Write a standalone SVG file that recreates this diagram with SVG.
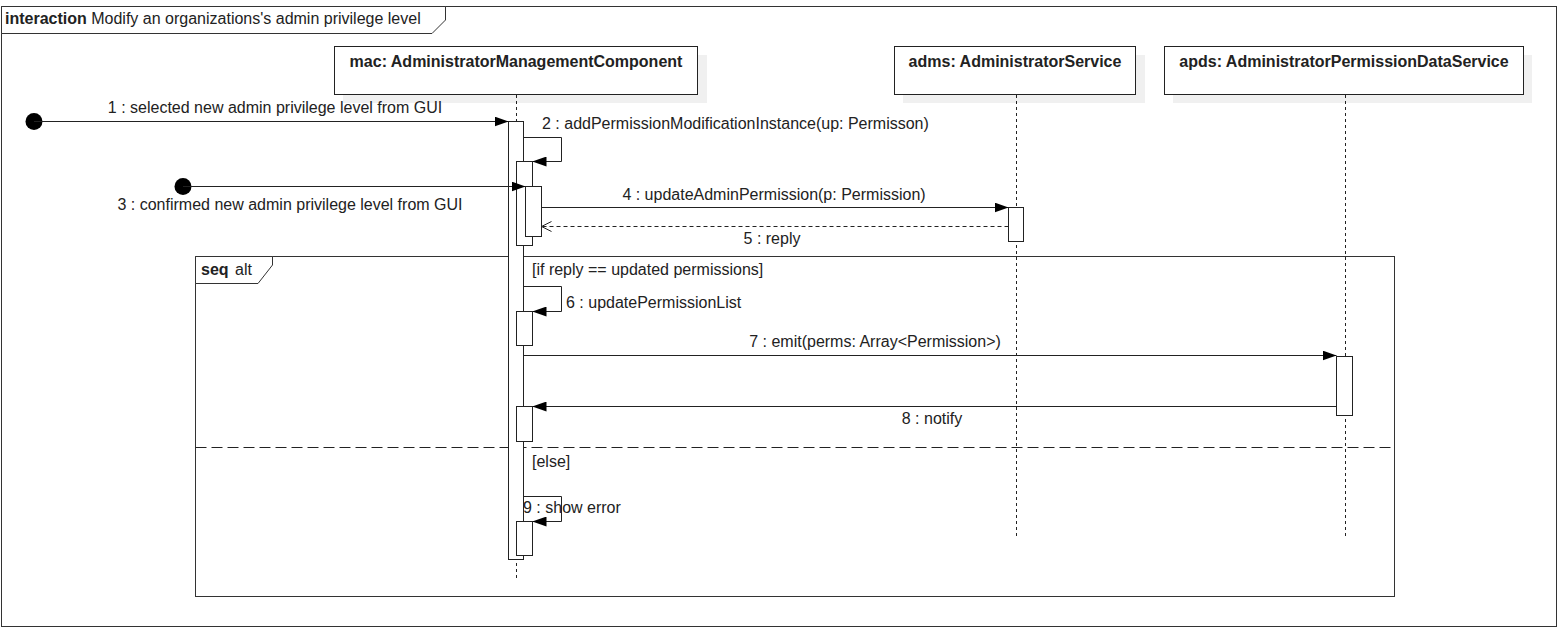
<svg xmlns="http://www.w3.org/2000/svg" width="1560" height="631" viewBox="0 0 1560 631">
  <style>
    text { font-family: "Liberation Sans", Arial, sans-serif; font-size: 16px; fill: #222; }
    .b { font-weight: bold; }
    .mid { text-anchor: middle; }
    .frame { fill: none; stroke: #333; stroke-width: 1; }
    .tab { fill: #fff; stroke: #333; stroke-width: 1; }
    .head { fill: #fff; stroke: #222; stroke-width: 1; }
    .shadow { fill: #f0f0f0; stroke: none; }
    .life { stroke: #222; stroke-width: 1; stroke-dasharray: 3 3; fill: none; }
    .act { fill: #fff; stroke: #222; stroke-width: 1; }
    .msg { fill: none; stroke: #222; stroke-width: 1; }
    .ret { fill: none; stroke: #222; stroke-width: 1; stroke-dasharray: 4 3; }
    .sep { fill: none; stroke: #222; stroke-width: 1; stroke-dasharray: 11 5; }
  </style>
  <defs>
    <marker id="filled" markerUnits="userSpaceOnUse" markerWidth="14" markerHeight="10" refX="14" refY="5" orient="auto">
      <path d="M0,0 L14,5 L0,10 z" fill="#000"/>
    </marker>
    <marker id="open" markerUnits="userSpaceOnUse" markerWidth="12" markerHeight="12" refX="11" refY="6" orient="auto">
      <path d="M1,1 L11,6 L1,11" fill="none" stroke="#222" stroke-width="1"/>
    </marker>
  </defs>

  <rect width="1560" height="631" fill="#fff"/>

  <!-- interaction frame -->
  <g id="interaction-frame">
    <rect class="frame" x="1.5" y="6.5" width="1555" height="620"/>
    <path class="tab" d="M1.5,6.5 L445.5,6.5 L445.5,20 L432,33.5 L1.5,33.5 z"/>
    <text x="5" y="24"><tspan class="b">interaction</tspan> Modify an organizations's admin privilege level</text>
  </g>

  <!-- combined fragment (alt) -->
  <g id="alt-fragment">
    <rect class="frame" x="195.5" y="256.5" width="1199" height="340"/>
    <path class="tab" d="M195.5,256.5 L272.5,256.5 L272.5,265 L258,283.5 L195.5,283.5 z"/>
    <text class="b" x="201" y="275">seq</text>
    <text x="235" y="275">alt</text>
    <line class="sep" x1="195.5" y1="447.5" x2="1394.5" y2="447.5"/>
    <text x="532" y="275">[if reply == updated permissions]</text>
    <text x="532" y="467">[else]</text>
  </g>

  <!-- lifeline: mac -->
  <g id="mac">
    <rect class="shadow" x="343" y="55" width="364" height="48"/>
    <rect class="head" x="334.5" y="46.5" width="363" height="48"/>
    <text class="b mid" x="516" y="67">mac: AdministratorManagementComponent</text>
    <line class="life" x1="516.5" y1="95" x2="516.5" y2="578"/>
    <rect class="act" x="508.5" y="121.5" width="15" height="438"/>
    <rect class="act" x="516.5" y="161.5" width="16" height="84"/>
    <rect class="act" x="525.5" y="186.5" width="16" height="50"/>
    <rect class="act" x="516.5" y="311.5" width="16" height="34"/>
    <rect class="act" x="516.5" y="406.5" width="16" height="35"/>
    <rect class="act" x="516.5" y="521.5" width="16" height="34"/>
  </g>

  <!-- lifeline: adms -->
  <g id="adms">
    <rect class="shadow" x="903" y="55" width="242" height="48"/>
    <rect class="head" x="894.5" y="46.5" width="241" height="48"/>
    <text class="b mid" x="1015" y="67">adms: AdministratorService</text>
    <line class="life" x1="1016.5" y1="95" x2="1016.5" y2="536"/>
    <rect class="act" x="1008.5" y="207.5" width="15" height="34"/>
  </g>

  <!-- lifeline: apds -->
  <g id="apds">
    <rect class="shadow" x="1173" y="55" width="359" height="48"/>
    <rect class="head" x="1164.5" y="46.5" width="359" height="48"/>
    <text class="b mid" x="1344" y="67">apds: AdministratorPermissionDataService</text>
    <line class="life" x1="1345.5" y1="95" x2="1345.5" y2="536"/>
    <rect class="act" x="1336.5" y="356.5" width="16" height="59"/>
  </g>

  <!-- messages -->
  <g id="connectors">
    <circle cx="34" cy="121.5" r="8.5" fill="#000"/>
    <line class="msg" x1="34" y1="121.5" x2="508.5" y2="121.5" marker-end="url(#filled)"/>
    <text class="mid" x="275" y="113">1 : selected new admin privilege level from GUI</text>

    <polyline class="msg" points="523.5,137.5 561.5,137.5 561.5,161.5 532.5,161.5" marker-end="url(#filled)"/>
    <text x="542" y="129">2 : addPermissionModificationInstance(up: Permisson)</text>

    <circle cx="183" cy="186.5" r="8.5" fill="#000"/>
    <line class="msg" x1="183" y1="186.5" x2="525.5" y2="186.5" marker-end="url(#filled)"/>
    <text class="mid" x="290" y="210">3 : confirmed new admin privilege level from GUI</text>

    <line class="msg" x1="541.5" y1="207.5" x2="1008.5" y2="207.5" marker-end="url(#filled)"/>
    <text class="mid" x="774" y="200">4 : updateAdminPermission(p: Permission)</text>

    <line class="ret" x1="1008.5" y1="226.5" x2="541.5" y2="226.5" marker-end="url(#open)"/>
    <text class="mid" x="772" y="244">5 : reply</text>

    <polyline class="msg" points="523.5,286.5 561.5,286.5 561.5,311.5 532.5,311.5" marker-end="url(#filled)"/>
    <text x="566" y="308">6 : updatePermissionList</text>

    <line class="msg" x1="523.5" y1="355.5" x2="1336.5" y2="355.5" marker-end="url(#filled)"/>
    <text class="mid" x="875" y="347">7 : emit(perms: Array&lt;Permission&gt;)</text>

    <line class="msg" x1="1336.5" y1="406.5" x2="532.5" y2="406.5" marker-end="url(#filled)"/>
    <text class="mid" x="932" y="424">8 : notify</text>

    <polyline class="msg" points="523.5,496.5 561.5,496.5 561.5,521.5 532.5,521.5" marker-end="url(#filled)"/>
    <text x="523" y="513">9 : show error</text>
  </g>
</svg>
